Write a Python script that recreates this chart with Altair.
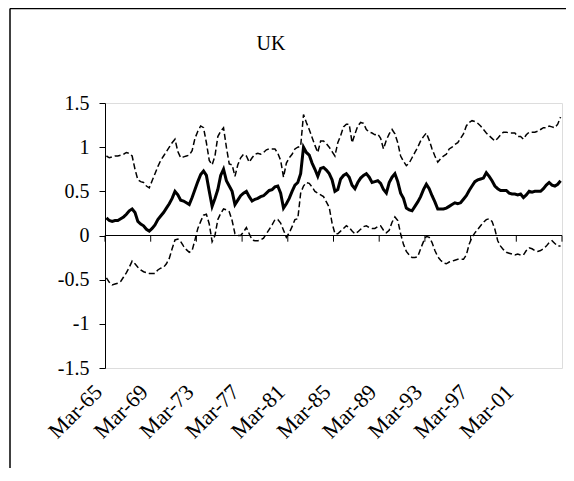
import json
import altair as alt
import pandas as pd

# Quarterly data, Mar-65 .. Dec-04
central = [
    0.20, 0.17, 0.16, 0.17, 0.17, 0.19, 0.21, 0.24, 0.28, 0.30,
    0.26, 0.16, 0.13, 0.11, 0.07, 0.05, 0.08, 0.12, 0.18, 0.22,
    0.26, 0.31, 0.36, 0.42, 0.50, 0.46, 0.40, 0.39, 0.37, 0.35,
    0.43, 0.52, 0.61, 0.69, 0.73, 0.68, 0.50, 0.33, 0.42, 0.52,
    0.68, 0.75, 0.62, 0.56, 0.50, 0.35, 0.40, 0.45, 0.48, 0.50,
    0.44, 0.39, 0.41, 0.42, 0.44, 0.45, 0.48, 0.51, 0.52, 0.55,
    0.56, 0.48, 0.31, 0.36, 0.42, 0.50, 0.57, 0.60, 0.70, 1.00,
    0.94, 0.91, 0.82, 0.75, 0.67, 0.76, 0.77, 0.74, 0.70, 0.63,
    0.50, 0.52, 0.64, 0.68, 0.70, 0.66, 0.57, 0.53, 0.60, 0.65,
    0.68, 0.70, 0.66, 0.60, 0.61, 0.62, 0.59, 0.52, 0.48, 0.60,
    0.66, 0.70, 0.61, 0.48, 0.42, 0.31, 0.29, 0.28, 0.33, 0.38,
    0.44, 0.52, 0.58, 0.53, 0.45, 0.38, 0.30, 0.30, 0.30, 0.31,
    0.33, 0.35, 0.37, 0.36, 0.37, 0.41, 0.45, 0.51, 0.56, 0.61,
    0.63, 0.64, 0.65, 0.71, 0.67, 0.62, 0.56, 0.53, 0.51, 0.51,
    0.51, 0.48, 0.47, 0.47, 0.46, 0.47, 0.43, 0.46, 0.50, 0.49,
    0.50, 0.50, 0.50, 0.53, 0.57, 0.60, 0.57, 0.56, 0.58, 0.62,
]

upper = [
    0.90, 0.88, 0.89, 0.90, 0.90, 0.91, 0.92, 0.94, 0.93, 0.90,
    0.75, 0.63, 0.61, 0.60, 0.56, 0.54, 0.62, 0.70, 0.78, 0.85,
    0.90, 0.95, 1.00, 1.05, 1.09, 0.95, 0.88, 0.89, 0.90, 0.91,
    0.96, 1.10, 1.18, 1.24, 1.22, 1.05, 0.85, 0.80, 0.90, 1.12,
    1.18, 1.22, 1.00, 0.81, 0.80, 0.67, 0.80, 0.88, 0.92, 0.90,
    0.83, 0.88, 0.92, 0.93, 0.92, 0.94, 0.97, 0.98, 0.98, 0.98,
    0.93, 0.85, 0.66, 0.82, 0.88, 0.92, 0.98, 1.00, 1.01, 1.37,
    1.28, 1.20, 1.11, 1.02, 0.94, 1.07, 1.07, 1.04, 1.00, 0.95,
    0.90, 1.05, 1.13, 1.23, 1.26, 1.26, 1.05, 1.15, 1.24, 1.28,
    1.27, 1.20, 1.17, 1.16, 1.14, 1.15, 1.10, 0.98, 1.08, 1.15,
    1.20, 1.15, 1.05, 0.90, 0.84, 0.79, 0.82, 0.88, 0.94, 1.00,
    1.07, 1.12, 1.16, 1.08, 0.98, 0.90, 0.83, 0.87, 0.90, 0.92,
    0.98, 1.00, 1.03, 1.05, 1.10, 1.15, 1.24, 1.28, 1.30, 1.29,
    1.27, 1.24, 1.20, 1.16, 1.13, 1.10, 1.07, 1.10, 1.14, 1.17,
    1.17, 1.16, 1.16, 1.16, 1.12, 1.12, 1.09, 1.14, 1.17, 1.17,
    1.17, 1.18, 1.20, 1.22, 1.22, 1.24, 1.23, 1.22, 1.26, 1.34,
]

lower = [
    -0.48, -0.53, -0.56, -0.55, -0.54, -0.52, -0.47, -0.42, -0.36, -0.29,
    -0.32, -0.36, -0.39, -0.41, -0.42, -0.43, -0.43, -0.43, -0.39, -0.37,
    -0.36, -0.32, -0.26, -0.15, -0.05, -0.04, -0.07, -0.12, -0.16, -0.19,
    -0.17, -0.05, 0.08, 0.16, 0.23, 0.24, 0.13, -0.07, 0.00, 0.18,
    0.25, 0.30, 0.29, 0.27, 0.17, 0.02, 0.00, 0.00, 0.04, 0.09,
    0.02, -0.05, -0.06, -0.06, -0.05, -0.03, 0.02, 0.07, 0.12, 0.18,
    0.18, 0.14, 0.06, -0.02, 0.03, 0.10, 0.18, 0.19, 0.48, 0.56,
    0.60, 0.59, 0.55, 0.50, 0.48, 0.46, 0.44, 0.38, 0.32, 0.14,
    0.02, 0.02, 0.05, 0.08, 0.11, 0.09, 0.05, 0.02, 0.04, 0.07,
    0.10, 0.11, 0.09, 0.08, 0.08, 0.10, 0.11, 0.06, 0.03, 0.06,
    0.15, 0.21, 0.17, 0.02, -0.10, -0.18, -0.22, -0.25, -0.25, -0.24,
    -0.15, -0.07, -0.01, -0.02, -0.08, -0.17, -0.24, -0.28, -0.31, -0.32,
    -0.30, -0.29, -0.28, -0.27, -0.27, -0.27, -0.22, -0.10, -0.02, 0.03,
    0.07, 0.11, 0.15, 0.18, 0.19, 0.16, 0.07, -0.06, -0.12, -0.16,
    -0.19, -0.20, -0.21, -0.22, -0.21, -0.22, -0.22, -0.17, -0.14, -0.15,
    -0.17, -0.18, -0.17, -0.15, -0.12, -0.08, -0.06, -0.09, -0.12, -0.12,
]

title_text = "UK"
tick_labels = ["Mar-65", "Mar-69", "Mar-73", "Mar-77", "Mar-81",
               "Mar-85", "Mar-89", "Mar-93", "Mar-97", "Mar-01"]
y_ticks = [-1.5, -1, -0.5, 0, 0.5, 1, 1.5]

n = len(central)
label_pos = [16 * i for i in range(len(tick_labels))]
tick_pos = [16 * i for i in range(n // 16 + 1)]

df = pd.DataFrame({
    "q": [i + 0.5 for i in range(n)] * 3,
    "value": central + upper + lower,
    "series": ["Central"] * n + ["Upper"] * n + ["Lower"] * n,
})

FONT = "Liberation Serif"
label_expr = json.dumps(tick_labels) + "[round(datum.value / 16)]"

x_enc = alt.X(
    "q:Q",
    scale=alt.Scale(domain=[0, n], nice=False, zero=False),
    axis=alt.Axis(
        values=label_pos, labelExpr=label_expr, labelAngle=-45,
        labelAlign="right", labelBaseline="top", labelFont=FONT,
        labelFontSize=22, labelColor="black", domain=False, ticks=False,
        grid=False, labelPadding=13, labelOffset=-14, title=None,
        labelOverlap=False, labelBound=False,
    ),
)
y_enc = alt.Y(
    "value:Q",
    scale=alt.Scale(domain=[-1.5, 1.5], nice=False, zero=False),
    axis=alt.Axis(
        values=y_ticks, labelExpr="toString(datum.value)", labelFont=FONT,
        labelFontSize=20, labelColor="black", domainColor="black",
        tickColor="black", tickSize=6, labelPadding=10, grid=False,
        title=None,
    ),
)

base = alt.Chart(df)
central_line = base.transform_filter(alt.datum.series == "Central").mark_line(
    color="black", strokeWidth=3
).encode(x=x_enc, y=y_enc)
upper_line = base.transform_filter(alt.datum.series == "Upper").mark_line(
    color="black", strokeWidth=1.5, strokeDash=[6, 3]
).encode(x="q:Q", y="value:Q")
lower_line = base.transform_filter(alt.datum.series == "Lower").mark_line(
    color="black", strokeWidth=1.5, strokeDash=[6, 3]
).encode(x="q:Q", y="value:Q")

zero_df = pd.DataFrame({"y": [0]})
zero_line = alt.Chart(zero_df).mark_rule(color="black", strokeWidth=1).encode(
    y="y:Q"
)

ticks_df = pd.DataFrame({"q": tick_pos, "y0": [0] * len(tick_pos),
                         "y1": [-0.07] * len(tick_pos)})
zero_ticks = alt.Chart(ticks_df).mark_rule(color="black", strokeWidth=1).encode(
    x="q:Q", y="y0:Q", y2="y1:Q"
)

frame_left = alt.Chart(zero_df).mark_rule(color="black", strokeWidth=1.5).encode(
    x=alt.value(-95), y=alt.value(-94.5), y2=alt.value(500)
)
frame_top = alt.Chart(zero_df).mark_rule(color="black", strokeWidth=1.5).encode(
    x=alt.value(-95), x2=alt.value(500), y=alt.value(-94.5)
)

title_df = pd.DataFrame({"t": [title_text]})
title_mark = alt.Chart(title_df).mark_text(
    font=FONT, fontSize=20, color="black", align="center",
    baseline="alphabetic"
).encode(text="t:N", x=alt.value(166), y=alt.value(-53))

chart = alt.layer(
    frame_left, frame_top, title_mark, zero_line, zero_ticks,
    upper_line, lower_line, central_line,
).properties(
    width=457,
    height=265,
    padding={"left": 97, "top": 95, "right": 4, "bottom": 100},
    autosize=alt.AutoSizeParams(type="none"),
).configure_view(
    stroke="#808080", strokeWidth=1
).configure(background="white")

chart.save("out.html", embed_options={"renderer": "svg", "actions": False})
